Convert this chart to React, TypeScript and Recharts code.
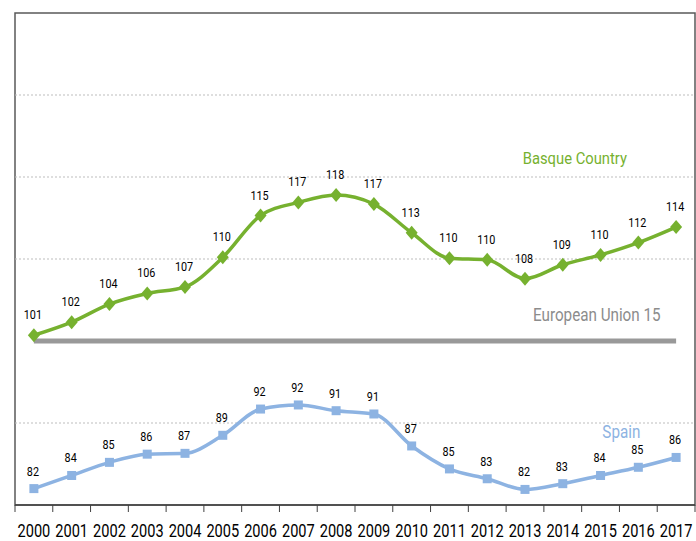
import { LineChart, Line, XAxis, YAxis, LabelList, ReferenceArea, ReferenceDot, ReferenceLine } from 'recharts'

const years = ['2000', '2001', '2002', '2003', '2004', '2005', '2006', '2007', '2008', '2009', '2010', '2011', '2012', '2013', '2014', '2015', '2016', '2017']
const basque = [100.7, 102.3, 104.5, 105.8, 106.6, 110.2, 115.3, 116.9, 117.8, 116.7, 113.2, 110.1, 109.9, 107.6, 109.3, 110.5, 112.0, 113.9]
const basqueLabels = [101, 102, 104, 106, 107, 110, 115, 117, 118, 117, 113, 110, 110, 108, 109, 110, 112, 114]
const spain = [82.0, 83.6, 85.2, 86.2, 86.3, 88.5, 91.7, 92.2, 91.5, 91.1, 87.2, 84.4, 83.2, 81.9, 82.6, 83.6, 84.6, 85.8]
const spainLabels = [82, 84, 85, 86, 87, 89, 92, 92, 91, 91, 87, 85, 83, 82, 83, 84, 85, 86]
const eu15 = years.map(() => 100)
const gridValues = [90, 110, 120, 130]

const data = years.map((year, i) => ({
  i,
  year,
  basque: basque[i],
  spain: spain[i],
  eu: eu15[i],
  bl: basqueLabels[i],
  sl: spainLabels[i],
}))

const W = 696
const H = 541
const M = { top: 13, right: 1, left: 15, bottom: 0 }
const BAND = (W - M.left - M.right) / years.length

const FONT = 'Roboto, "Noto Sans", sans-serif'
const GREEN = '#76b12f'
const BLUE = '#8db3e2'
const GREY = '#999999'
const AXIS = '#404040'

// Calibri-like narrow text: squeeze horizontally around the anchor point
const Narrow = ({ x, y, size, fill, sx = 0.8, anchor = 'middle', children }: any) => (
  <text
    transform={`translate(${x},${y}) scale(${sx},1)`}
    x={0}
    y={0}
    textAnchor={anchor}
    fontSize={size}
    fontFamily={FONT}
    fill={fill}
  >
    {children}
  </text>
)

const Diamond = (props: any) => {
  const { cx, cy } = props
  if (cx == null || cy == null) return null
  return <path d={`M${cx},${cy - 7} L${cx + 6},${cy} L${cx},${cy + 7} L${cx - 6},${cy} Z`} fill={GREEN} />
}

const Square = (props: any) => {
  const { cx, cy } = props
  if (cx == null || cy == null) return null
  return <rect x={cx - 4.5} y={cy - 4.5} width={9} height={9} fill={BLUE} />
}

const valueLabel = (dy: number) => (props: any) => {
  const { x, y, value } = props
  return (
    <Narrow x={x - 1} y={y - dy} size={13.5} fill="#000" sx={0.8}>
      {value}
    </Narrow>
  )
}

const seriesName = (text: string, color: string, size: number) => (props: any) => {
  const { viewBox } = props
  return (
    <Narrow x={viewBox.x} y={viewBox.y} size={size} fill={color} sx={0.87}>
      {text}
    </Narrow>
  )
}

const YearTick = (props: any) => {
  const { x, y, payload, index } = props
  const left = x - BAND / 2
  const right = x + BAND / 2
  return (
    <g>
      <line x1={left} x2={left} y1={y} y2={y + 7} stroke={AXIS} />
      {index === years.length - 1 && <line x1={right} x2={right} y1={y} y2={y + 7} stroke={AXIS} />}
      <Narrow x={x} y={y + 32} size={18} fill="#000" sx={0.81}>
        {years[payload.value]}
      </Narrow>
    </g>
  )
}

export default function App() {
  return (
    <div style={{ position: 'absolute', left: 0, top: 0, background: '#fff' }}>
      <LineChart width={W} height={H} data={data} margin={M}>
        <XAxis
          type="number"
          dataKey="i"
          domain={[-0.5, 17.5]}
          ticks={years.map((_, i) => i)}
          interval={0}
          height={36}
          tickSize={0}
          tickMargin={0}
          tickLine={false}
          tick={<YearTick />}
          axisLine={{ stroke: AXIS, strokeWidth: 1.5 }}
        />
        <YAxis
          domain={[80, 140]}
          ticks={[80, 90, 100, 110, 120, 130, 140]}
          width={0}
          tick={false}
          tickLine={false}
          axisLine={{ stroke: AXIS, strokeWidth: 1.5 }}
        />
        {gridValues.map((v) => (
          <ReferenceLine key={v} y={v} stroke="#bdbdbd" strokeDasharray="2 2" />
        ))}
        <ReferenceArea x1={-0.5} x2={17.5} y1={80} y2={140} fill="none" stroke="#595959" strokeWidth={1.5} />
        <Line dataKey="eu" stroke={GREY} strokeWidth={5} dot={false} isAnimationActive={false} />
        <Line dataKey="spain" type="monotone" stroke={BLUE} strokeWidth={3.5} dot={<Square />} isAnimationActive={false}>
          <LabelList dataKey="sl" content={valueLabel(13)} />
        </Line>
        <Line dataKey="basque" type="monotone" stroke={GREEN} strokeWidth={3.5} dot={<Diamond />} isAnimationActive={false}>
          <LabelList dataKey="bl" content={valueLabel(16)} />
        </Line>
        <ReferenceDot x={14.32} y={121.6} r={0} fill="none" stroke="none" label={seriesName('Basque Country', GREEN, 17)} />
        <ReferenceDot x={14.9} y={102.5} r={0} fill="none" stroke="none" label={seriesName('European Union 15', '#8c8c8c', 17.5)} />
        <ReferenceDot x={15.55} y={88.2} r={0} fill="none" stroke="none" label={seriesName('Spain', BLUE, 17.5)} />
      </LineChart>
    </div>
  )
}
